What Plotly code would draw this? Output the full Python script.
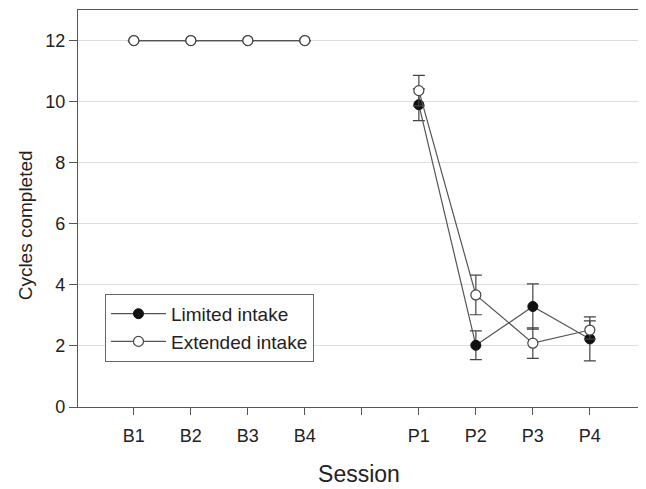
import plotly.graph_objects as go

sessions = ["B1", "B2", "B3", "B4", "", "P1", "P2", "P3", "P4"]
x_pos = [0, 1, 2, 3, 4, 5, 6, 7, 8]

limited = [12, 12, 12, 12, None, 9.9, 2.02, 3.29, 2.23]
limited_err = [0, 0, 0, 0, None, 0.52, 0.47, 0.74, 0.72]
extended = [12, 12, 12, 12, None, 10.36, 3.67, 2.09, 2.52]
extended_err = [0, 0, 0, 0, None, 0.5, 0.65, 0.5, 0.3]

line_col = "#555555"
font_fam = "Liberation Sans, Arial, sans-serif"

fig = go.Figure()
fig.add_trace(go.Scatter(
    x=x_pos, y=limited, name="Limited intake", mode="lines+markers",
    connectgaps=False,
    line=dict(color=line_col, width=1.2),
    marker=dict(symbol="circle", size=10, color="#111111", line=dict(color="#111111", width=1)),
    error_y=dict(type="data", array=limited_err, visible=True, color="#444444", thickness=1.2, width=6),
))
fig.add_trace(go.Scatter(
    x=x_pos, y=extended, name="Extended intake", mode="lines+markers",
    connectgaps=False,
    line=dict(color=line_col, width=1.2),
    marker=dict(symbol="circle", size=10, color="white", line=dict(color="#444444", width=1.2)),
    error_y=dict(type="data", array=extended_err, visible=True, color="#444444", thickness=1.2, width=6),
))

fig.update_layout(
    width=646, height=489,
    margin=dict(l=70, r=14, t=2, b=90),
    paper_bgcolor="white", plot_bgcolor="white",
    font=dict(family=font_fam, color="#222222", size=18),
    showlegend=True,
    legend=dict(
        x=0.048, y=0.285, xanchor="left", yanchor="top",
        bordercolor="#666666", borderwidth=1, bgcolor="white",
        font=dict(size=19, family=font_fam, color="#222222"),
        tracegroupgap=0, itemwidth=55,
    ),
    xaxis=dict(
        range=[-0.98, 8.88], tickmode="array", tickvals=x_pos, ticktext=sessions,
        showgrid=False, zeroline=False, automargin=False,
        showline=True, linecolor=line_col, linewidth=1.2, mirror=True,
        ticks="outside", ticklen=7, tickcolor=line_col, ticklabelstandoff=5,
        tickfont=dict(size=18),
        title=dict(text="Session", font=dict(size=23), standoff=21),
    ),
    yaxis=dict(
        range=[0, 13], tickmode="array", tickvals=[0, 2, 4, 6, 8, 10, 12],
        showgrid=True, gridcolor="#dddddd", gridwidth=1, zeroline=False, automargin=False,
        showline=True, linecolor=line_col, linewidth=1.2, mirror=True,
        ticks="outside", ticklen=8, tickcolor=line_col,
        tickfont=dict(size=18),
    ),
    annotations=[dict(
        text="Cycles completed", xref="paper", yref="paper",
        x=-0.094, y=0.458, xanchor="center", yanchor="middle",
        textangle=-90, showarrow=False,
        font=dict(size=19, family=font_fam, color="#222222"),
    )],
)

fig.write_html("out.html")
